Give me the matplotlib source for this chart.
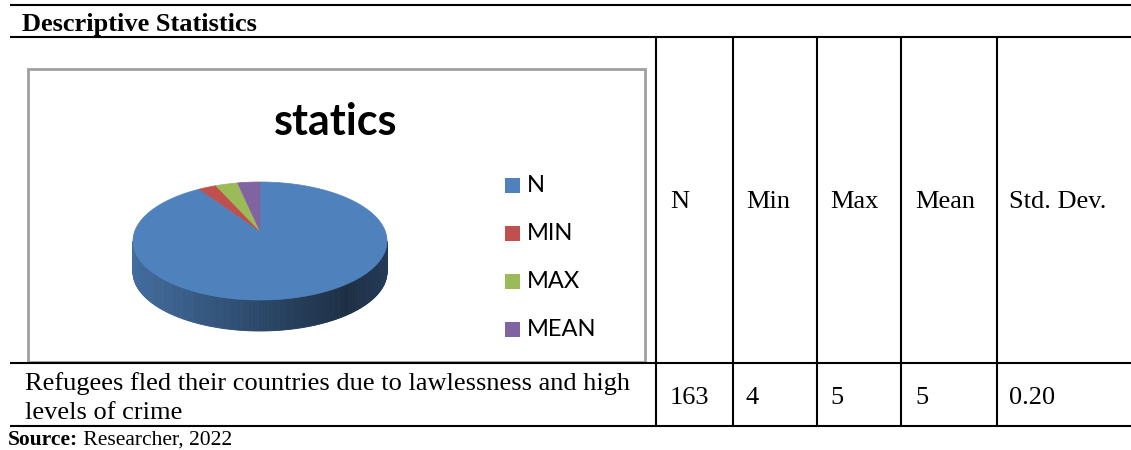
import numpy as np
import matplotlib.pyplot as plt
from matplotlib.patches import Polygon, Rectangle
from matplotlib.colors import to_rgb

# Descriptive statistics for the single survey item
item_lines = ["Refugees fled their countries due to lawlessness and high",
              "levels of crime"]
stat_headers = ["N", "Min", "Max", "Mean", "Std. Dev."]
stat_values = ["163", "4", "5", "5", "0.20"]

# Pie series (Std. Dev. is left out of the chart)
pie_labels = ["N", "MIN", "MAX", "MEAN"]
pie_values = [163, 4, 5, 5]
pie_colors = ["#4F81BD", "#C0504D", "#9BBB59", "#8064A2"]

SERIF = "Liberation Serif"
SANS = "Lato"
W, H = 1131, 450
BODY = 19

fig = plt.figure(figsize=(W / 100, H / 100), dpi=100)
ax = fig.add_axes([0, 0, 1, 1])
ax.set_xlim(0, W)
ax.set_ylim(H, 0)
ax.axis("off")

# table rules
lw = 1.5
for y in [5, 37, 363, 426]:
    ax.plot([10, W], [y, y], color="black", lw=lw, solid_capstyle="butt")
col_x = [656, 733, 817, 901, 997]
for x in col_x:
    ax.plot([x, x], [37, 426], color="black", lw=lw, solid_capstyle="butt")

ax.text(22, 31, "Descriptive Statistics", family=SERIF, weight="bold",
        fontsize=19, va="baseline", ha="left")

text_x = [670, 746, 830, 915, 1009]
for x, h in zip(text_x, stat_headers):
    ax.text(x, 208, h, family=SERIF, fontsize=BODY, va="baseline", ha="left")
for x, v in zip(text_x, stat_values):
    ax.text(x, 404, v, family=SERIF, fontsize=BODY, va="baseline", ha="left")

for y, line in zip([390, 419], item_lines):
    ax.text(25, y, line, family=SERIF, fontsize=BODY, va="baseline", ha="left")

src = ax.text(8, 445, "Source:", family=SERIF, weight="bold", fontsize=15.5,
              va="baseline", ha="left")
ax.annotate(" Researcher, 2022", xy=(1, 0), xycoords=src, family=SERIF,
            fontsize=15.5, va="bottom", ha="left")

# chart frame
ax.add_patch(Rectangle((28, 69), 617, 293, fill=False, edgecolor="#A0A0A0",
                       lw=2.0, zorder=1))

ax.text(336, 135, "statics", family=SANS, weight="bold", fontsize=31,
        va="baseline", ha="center")

# 3D pie: top ellipse, side depth, apex slightly raised for perspective
cx, cy, ra, rb, depth = 260, 241, 127, 59, 31
apex = (cx, cy - 10)

fracs = np.array(pie_values, dtype=float) / sum(pie_values)
ends = 90 - 360 * np.cumsum(fracs)
starts = np.concatenate([[90], ends[:-1]])


def rim(theta):
    t = np.radians(theta)
    return cx + ra * np.cos(t), cy - rb * np.sin(t)


def owner(theta):
    th = (theta - 90) % 360 - 360  # clockwise offset from 12 o'clock
    for i, (s, e) in enumerate(zip(starts, ends)):
        if e - 90 <= th <= s - 90:
            return i
    return 0


# front wall with horizontal shading
n_strips = 180
thetas = np.linspace(180, 360, n_strips + 1)
for t0, t1 in zip(thetas[:-1], thetas[1:]):
    x0, y0 = rim(t0)
    x1, y1 = rim(t1)
    u = ((x0 + x1) / 2 - (cx - ra)) / (2 * ra)
    if u < 0.85:
        shade = 0.84 - (0.84 - 0.36) * (u / 0.85)
    else:
        shade = 0.36 + 0.10 * (u - 0.85) / 0.15
    base = np.array(to_rgb(pie_colors[owner((t0 + t1) / 2)]))
    col = base * shade
    ax.add_patch(Polygon([(x0, y0), (x1, y1), (x1, y1 + depth), (x0, y0 + depth)],
                         closed=True, facecolor=col, edgecolor=col, lw=0.6,
                         zorder=2))

# top face wedges
for s, e, c in zip(starts, ends, pie_colors):
    ts = np.linspace(s, e, max(int(abs(s - e)) * 2, 8))
    pts = [apex] + [rim(t) for t in ts]
    ax.add_patch(Polygon(pts, closed=True, facecolor=c, edgecolor=c, lw=0.5,
                         zorder=3))

# legend
leg_y = [185, 233, 281, 329]
for y, lab, c in zip(leg_y, pie_labels, pie_colors):
    ax.add_patch(Rectangle((505, y - 7.5), 15, 15, facecolor=c, edgecolor="none"))
    ax.text(527, y, lab, family=SANS, fontsize=17, va="center", ha="left")

fig.savefig("out.png", dpi=100)
